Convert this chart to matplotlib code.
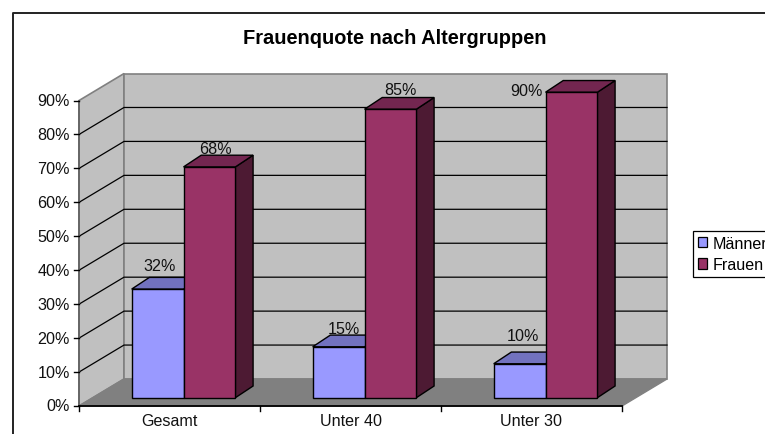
import matplotlib
matplotlib.use("Agg")
import matplotlib.pyplot as plt
from matplotlib.patches import Polygon, Patch

plt.rcParams["font.family"] = ["Liberation Sans", "DejaVu Sans"]

categories = ["Gesamt", "Unter 40", "Unter 30"]
maenner = [32, 15, 10]
frauen = [68, 85, 90]
y_ticks = [0, 10, 20, 30, 40, 50, 60, 70, 80, 90]

W, H = 765, 435
PX_X = 181.0  # pixels per category
PX_Y = 3.394  # pixels per percent
X0, Y0 = 79, 407  # where category 0 / 0% sits

# 3d look: depth of walls and bars, in data units
WALL_DX = 45 / PX_X
WALL_DY = 27 / PX_Y
BAR_DX = 17.7 / PX_X
BAR_DY = 11.7 / PX_Y
BAR_W = 0.2865
BAR_X = 0.291
BASE_Y = 8.3 / PX_Y

LIGHT_M = ("#9999FF", "#7272BF", "#4D4D80")
LIGHT_F = ("#993366", "#732650", "#4D1A33")
TEXT_SIZE = 11.6

fig = plt.figure(figsize=(W / 100, H / 100), dpi=100)
ax = fig.add_axes([0, 0, 1, 1])
ax.set_xlim(-X0 / PX_X, (W - X0) / PX_X)
ax.set_ylim(-(H - Y0) / PX_Y, Y0 / PX_Y)
ax.axis("off")


def poly(points, color, edge="black", lw=1.0, z=2):
    ax.add_patch(Polygon(points, closed=True, facecolor=color, edgecolor=edge, linewidth=lw, zorder=z))


n = len(categories)
top = y_ticks[-1]

# walls and floor
poly([(0, 0), (WALL_DX, WALL_DY), (WALL_DX, top + WALL_DY), (0, top)], "#C0C0C0", "#808080", 1.2, 1)
poly([(WALL_DX, WALL_DY), (n + WALL_DX, WALL_DY), (n + WALL_DX, top + WALL_DY), (WALL_DX, top + WALL_DY)],
     "#C0C0C0", "#808080", 1.2, 1)
poly([(0, 0), (n, 0), (n + WALL_DX, WALL_DY), (WALL_DX, WALL_DY)], "#808080", "#808080", 1.0, 1)

# gridlines
for t in y_ticks[1:-1]:
    ax.plot([0, WALL_DX, n + WALL_DX], [t, t + WALL_DY, t + WALL_DY], color="black", lw=0.9, zorder=1.5)

# axes lines and ticks
ax.plot([0, 0], [0, top], color="#606060", lw=1.2, zorder=3)
ax.plot([0, n], [0, 0], color="black", lw=1.3, zorder=3)
for t in y_ticks:
    ax.plot([-5 / PX_X, 0], [t, t], color="black", lw=1.0, zorder=3)
    ax.annotate(f"{t}%", (0, t), xytext=(-9, 0), textcoords="offset pixels", ha="right", va="center",
                fontsize=TEXT_SIZE, color="#111111")
for i in range(n + 1):
    ax.plot([i, i], [0, -5 / PX_Y], color="black", lw=1.0, zorder=3)
for i, c in enumerate(categories):
    ax.annotate(c, (i + 0.5, 0), xytext=(0, -15), textcoords="offset pixels", ha="center", va="center",
                fontsize=TEXT_SIZE, color="#111111")


def bar(x, v, colors):
    x2 = x + BAR_W
    b = BASE_Y
    t = BASE_Y + v
    poly([(x2, b), (x2 + BAR_DX, b + BAR_DY), (x2 + BAR_DX, t + BAR_DY), (x2, t)], colors[2], z=4)
    poly([(x, t), (x2, t), (x2 + BAR_DX, t + BAR_DY), (x + BAR_DX, t + BAR_DY)], colors[1], z=4)
    poly([(x, b), (x2, b), (x2, t), (x, t)], colors[0], z=4)


label_nudge_m = [(2, 24), (5, 18), (3, 28)]
label_nudge_f = [(6, 18), (10, 20), (-45, 2)]

for i in range(n):
    xm = i + BAR_X
    xf = xm + BAR_W
    bar(xm, maenner[i], LIGHT_M)
    bar(xf, frauen[i], LIGHT_F)
    ax.annotate(f"{maenner[i]}%", (xm + BAR_W / 2, BASE_Y + maenner[i]), xytext=label_nudge_m[i],
                textcoords="offset pixels", ha="center", va="center", fontsize=TEXT_SIZE, color="#111111", zorder=6)
    ax.annotate(f"{frauen[i]}%", (xf + BAR_W / 2, BASE_Y + frauen[i]), xytext=label_nudge_f[i],
                textcoords="offset pixels", ha="center", va="center", fontsize=TEXT_SIZE, color="#111111", zorder=6)

# outer chart frame, runs off the right and bottom edge
fig.add_artist(plt.Line2D([13 / W, 13 / W, 1], [0, 1 - 14 / H, 1 - 14 / H], color="#222222", lw=1.4))

ax.text(395 / W, 1 - 38 / H, "Frauenquote nach Altergruppen", transform=ax.transAxes, ha="center", va="center",
        fontsize=14.4, fontweight="bold", color="black")

handles = [Patch(facecolor=LIGHT_M[0], edgecolor="black", linewidth=0.9),
           Patch(facecolor=LIGHT_F[0], edgecolor="black", linewidth=0.9)]
leg = ax.legend(handles, ["Männer", "Frauen"], loc="upper left", bbox_to_anchor=(693 / W, 1 - 232 / H),
                bbox_transform=ax.transAxes, borderaxespad=0, fontsize=TEXT_SIZE, fancybox=False, framealpha=1,
                edgecolor="black", handlelength=0.6, handleheight=0.6, handletextpad=0.35, labelspacing=0.42,
                borderpad=0.28)
leg.get_frame().set_linewidth(0.9)
leg.set_zorder(7)

fig.savefig("out.png", dpi=100)
